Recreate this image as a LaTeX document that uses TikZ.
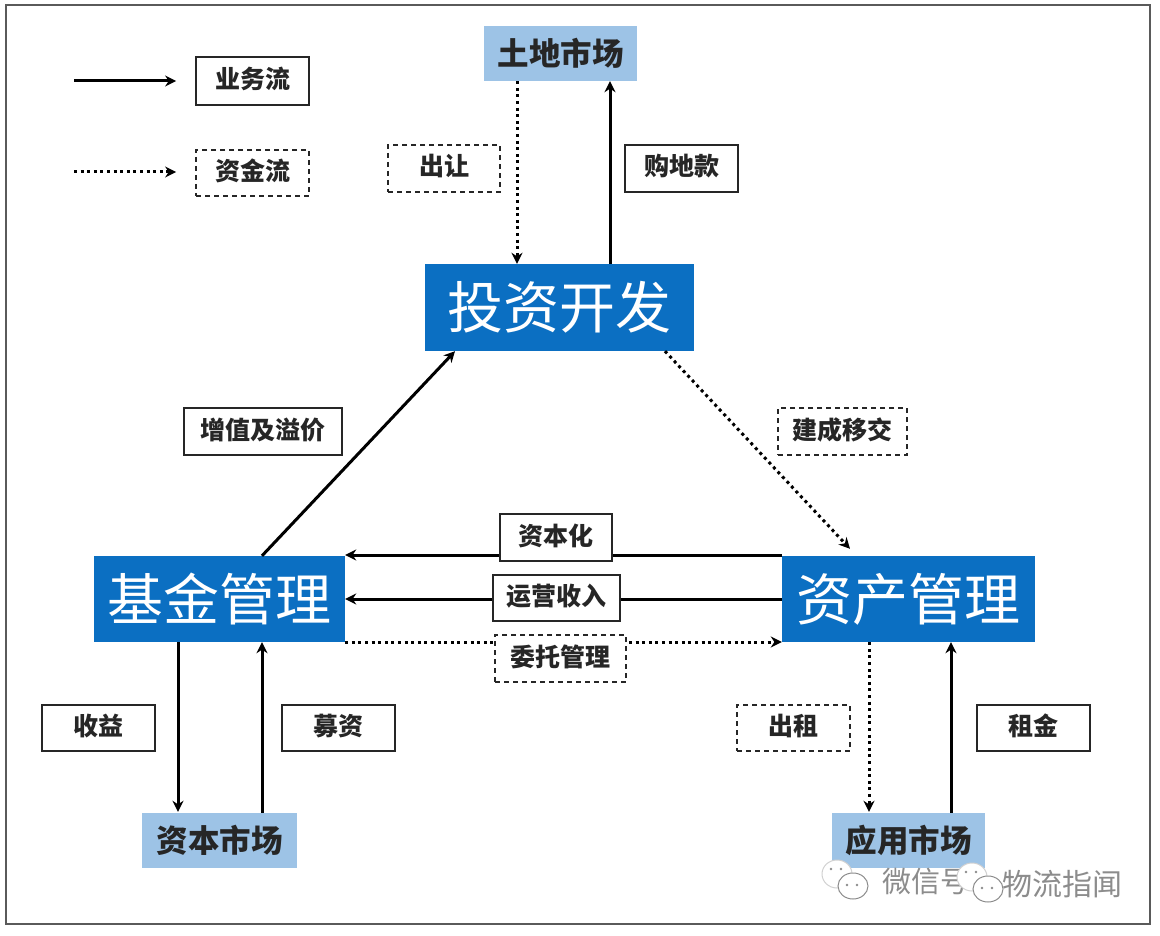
\documentclass[tikz,border=0pt]{standalone}
\usepackage{fontspec}
\usetikzlibrary{arrows.meta}
\setmainfont{Noto Sans CJK SC}
\definecolor{mainblue}{HTML}{0B6FC2}
\definecolor{lightblue}{HTML}{9DC3E6}
\definecolor{framegray}{HTML}{5A5A5A}
\definecolor{inkgray}{HTML}{262626}
\definecolor{markgray}{HTML}{8C8C8C}
\begin{document}
\begin{tikzpicture}
[x=1pt,y=-1pt,>={Stealth[length=11pt,width=11pt]},
flow/.style = {->, line width=3pt, color=black},
cash/.style = {->, line width=3pt, color=black, dash pattern=on 3pt off 3.6pt},
main/.style = {fill=mainblue, text=white, inner sep=0pt, font=\fontsize{56}{56}\selectfont},
market/.style = {fill=lightblue, text=inkgray, inner sep=0pt, font=\fontsize{31.5}{32}\selectfont\bfseries},
tag/.style = {draw=inkgray, fill=white, line width=1.8pt, text=inkgray, inner sep=0pt, text height=22pt, text depth=7pt, font=\fontsize{25}{25}\selectfont\bfseries},
tagcash/.style = {tag, dash pattern=on 5pt off 4pt},
]
\useasboundingbox (0,0) rectangle (1160,936);
\fill [white] (0,0) rectangle (1160,936);
\draw [framegray, line width=2.2pt] (6,5) rectangle (1150,924);

% main boxes
\node (touzi) at (559.5,307.5)[main,minimum width=269pt,minimum height=87pt] {投资开发};
\node (jijin) at (219.5,599)[main,minimum width=251pt,minimum height=86pt] {基金管理};
\node (zichan) at (908.5,599)[main,minimum width=253pt,minimum height=86pt] {资产管理};

% markets
\node (tudi) at (560.5,53.5)[market,minimum width=153pt,minimum height=55pt] {土地市场};
\node (ziben) at (219.5,840.5)[market,minimum width=155pt,minimum height=55pt] {资本市场};
\node (yingyong) at (908.5,840.5)[market,minimum width=153pt,minimum height=55pt] {应用市场};

% legend arrows
\coordinate (a1) at (74,81);
\coordinate (a2) at (74,172);
\node (yewu) at (252.5,81)[tag,minimum width=113pt,minimum height=48pt] {业务流};
\node (zijin) at (252.5,173)[tagcash,minimum width=113pt,minimum height=46pt] {资金流};
\draw [flow,shorten >=19pt] (a1) -- (yewu.west);
\draw [cash,shorten >=19pt] (a2) -- (a2 -| zijin.west);

% market links
\draw [cash] ([xshift=-43.5pt]tudi.south) -- ([xshift=-43.5pt]tudi.south |- touzi.north);
\draw [flow] ([xshift=49.5pt]tudi.south |- touzi.north) -- ([xshift=49.5pt]tudi.south);
\draw [flow,shorten >=1pt] ([xshift=-41.5pt]jijin.south) -- ([xshift=-41.5pt]jijin.south |- ziben.north);
\draw [flow] ([xshift=42.5pt]jijin.south |- ziben.north) -- ([xshift=42.5pt]jijin.south);
\draw [cash,shorten >=1pt] ([xshift=-39.5pt]zichan.south) -- ([xshift=-39.5pt]zichan.south |- yingyong.north);
\draw [flow] ([xshift=42.5pt]zichan.south |- yingyong.north) -- ([xshift=42.5pt]zichan.south);

% triangle
\draw [flow] ([xshift=42.5pt]jijin.north) -- ([xshift=-104.5pt]touzi.south);
\draw [cash] ([xshift=105.5pt]touzi.south) -- ([xshift=-58.5pt,yshift=7pt]zichan.north);
\draw [flow] ([yshift=44pt]zichan.west) -- ([yshift=44pt]jijin.east);
\draw [flow] (zichan.west) -- (jijin.east);
\draw [cash] ([yshift=-43pt]jijin.east) -- ([yshift=-43pt]zichan.west);

% labels
\node (churang) at (444,168.5)[tagcash,minimum width=112pt,minimum height=47pt] {出让};
\node (goudi) at (681.5,168.5)[tag,minimum width=113pt,minimum height=47pt] {购地款};
\node (zengzhi) at (263,431.5)[tag,minimum width=158pt,minimum height=47pt] {增值及溢价};
\node (jiancheng) at (842.5,431.5)[tagcash,minimum width=129pt,minimum height=47pt] {建成移交};
\node (zibenhua) at (556,537.5)[tag,minimum width=112pt,minimum height=47pt] {资本化};
\node (yunying) at (556.5,598)[tag,minimum width=127pt,minimum height=46pt] {运营收入};
\node (weituo) at (560.5,658.5)[tagcash,minimum width=131pt,minimum height=47pt] {委托管理};
\node (shouyi) at (98.5,728)[tag,minimum width=113pt,minimum height=46pt] {收益};
\node (muzi) at (338.5,728)[tag,minimum width=113pt,minimum height=46pt] {募资};
\node (chuzu) at (793.5,728)[tagcash,minimum width=113pt,minimum height=46pt] {出租};
\node (zujin) at (1033.5,728)[tag,minimum width=113pt,minimum height=46pt] {租金};

% watermark
\node (wxa) at (926,882)[text=markgray,inner sep=0pt,font=\fontsize{29}{29}\selectfont] {微信号};
\node (wxb) at (1062,884)[text=markgray,inner sep=0pt,font=\fontsize{30}{30}\selectfont] {物流指闻};
\foreach \lx/\ly in {822/860,957/863} {
\draw [markgray!40,fill=white,line width=1pt] (\lx+15,\ly+14) ellipse (15pt and 14pt);
\draw [markgray,fill=white,line width=1pt] (\lx+31,\ly+26) ellipse (15pt and 13pt);
\fill [markgray] (\lx+25,\ly+25) circle (1.3pt) (\lx+35,\ly+25) circle (1.3pt) (\lx+9,\ly+9) circle (1.3pt) (\lx+19,\ly+9) circle (1.3pt);
}
\end{tikzpicture}
\end{document}
